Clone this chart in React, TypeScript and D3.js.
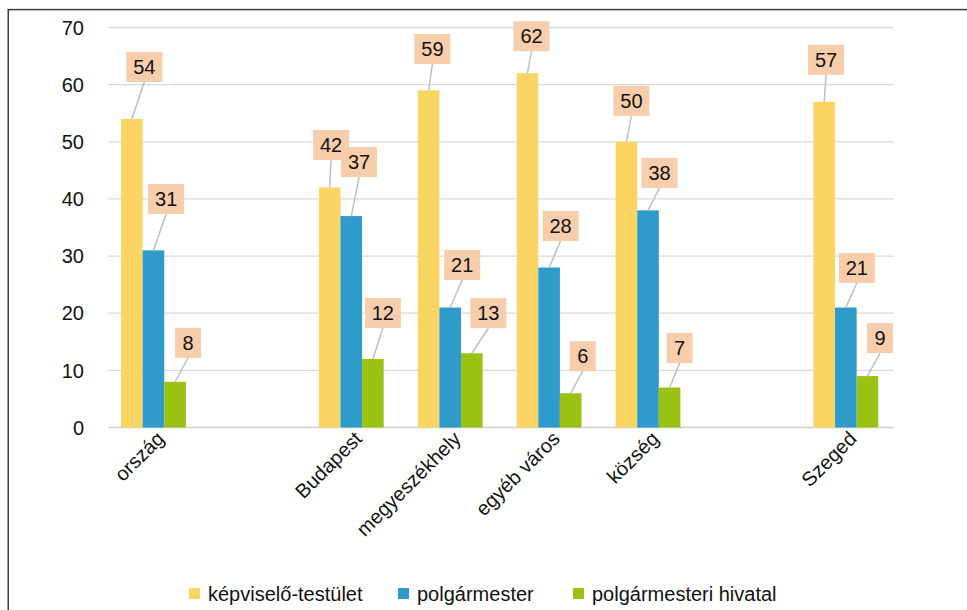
import React from "react";
import * as d3 from "d3";

// Category axis (empty slots keep the gaps between groups)
const categories = ["ország", "", "Budapest", "megyeszékhely", "egyéb város", "község", "", "Szeged"];

const seriesNames = ["képviselő-testület", "polgármester", "polgármesteri hivatal"];
const kepviseloTestulet = [54, null, 42, 59, 62, 50, null, 57];
const polgarmester = [31, null, 37, 21, 28, 38, null, 21];
const polgarmesteriHivatal = [8, null, 12, 13, 6, 7, null, 9];
const yTicks = [0, 10, 20, 30, 40, 50, 60, 70];

const seriesValues = [kepviseloTestulet, polgarmester, polgarmesteriHivatal];
const seriesColors = ["#FAD564", "#2E9BCA", "#9BC212"];

// Data-label callout placement: box centre relative to the top centre of its bar
const labelOffsets: (number[] | null)[][] = [
  [[12.5, -52], null, [1.4, -42.5], [3.8, -41.4], [4, -37], [5, -41], null, [1.8, -42]],
  [[12.7, -51.4], null, [7.8, -54], [12, -42.5], [11.5, -41.5], [11.5, -37.5], null, [11, -39.5]],
  [[13, -39], null, [10, -46], [16.6, -40], [12, -37], [10, -39.5], null, [12.5, -38]],
];

const W = 967;
const H = 610;
const FONT = "'Liberation Sans', Arial, sans-serif";

export default function App() {
  const x = d3
    .scaleBand<number>()
    .domain(categories.map((_, i) => i))
    .range([104, 895.3])
    .paddingInner(0)
    .paddingOuter(0);
  const groupW = x.bandwidth() * 0.655;
  const xs = d3
    .scaleBand<number>()
    .domain(seriesNames.map((_, i) => i))
    .range([0, groupW])
    .padding(0);
  const y = d3.scaleLinear().domain([0, 70]).range([427.5, 27.5]);

  const gridX0 = 108;
  const gridX1 = 894;

  const barCenter = (ci: number, si: number) =>
    (x(ci) as number) + (x.bandwidth() - groupW) / 2 + (xs(si) as number) + xs.bandwidth() / 2;

  const legendItems = [
    { sq: 189, tx: 208 },
    { sq: 398, tx: 417 },
    { sq: 573, tx: 592 },
  ];

  return (
    <svg
      width={W}
      height={H}
      style={{ position: "absolute", left: 0, top: 0, background: "#fff" }}
      fontFamily={FONT}
    >
      {/* chart frame */}
      <rect x={8.25} y={9.6} width={1000} height={700} fill="none" stroke="#3c3c3c" strokeWidth={1.5} />

      {/* gridlines */}
      {yTicks.map((t) => (
        <line
          key={"g" + t}
          x1={gridX0}
          x2={gridX1}
          y1={y(t)}
          y2={y(t)}
          stroke={t === 0 ? "#D0D0D0" : "#D9D9D9"}
          strokeWidth={1.3}
        />
      ))}

      {/* y tick labels */}
      {yTicks.map((t) => (
        <text key={"t" + t} x={84} y={y(t)} dy="0.36em" textAnchor="end" fontSize={20} fill="#111">
          {t}
        </text>
      ))}

      {/* bars */}
      {seriesValues.map((vals, si) =>
        vals.map((v, ci) =>
          v == null ? null : (
            <rect
              key={`b${si}-${ci}`}
              x={barCenter(ci, si) - xs.bandwidth() / 2}
              y={y(v)}
              width={xs.bandwidth()}
              height={y(0) - y(v)}
              fill={seriesColors[si]}
            />
          )
        )
      )}

      {/* data label callouts */}
      {seriesValues.map((vals, si) =>
        vals.map((v, ci) => {
          const off = labelOffsets[si][ci];
          if (v == null || !off) return null;
          const bx = barCenter(ci, si);
          const by = y(v);
          const cx = bx + off[0];
          const cy = by + off[1];
          const label = String(v);
          const bw = label.length > 1 ? 36 : 26;
          const bh = 30;
          return (
            <g key={`l${si}-${ci}`}>
              <line x1={cx} y1={cy + bh / 2} x2={bx} y2={by} stroke="#BFBFBF" strokeWidth={1.5} />
              <rect x={cx - bw / 2} y={cy - bh / 2} width={bw} height={bh} fill="#F8CDAC" />
              <text x={cx} y={cy} dy="0.36em" textAnchor="middle" fontSize={20} fill="#111">
                {label}
              </text>
            </g>
          );
        })
      )}

      {/* category labels */}
      {categories.map((c, ci) =>
        c ? (
          <text
            key={"c" + ci}
            transform={`translate(${(x(ci) as number) + x.bandwidth() / 2 + 12},${440}) rotate(-45)`}
            textAnchor="end"
            fontSize={20}
            fill="#111"
          >
            {c}
          </text>
        ) : null
      )}

      {/* legend */}
      {seriesNames.map((s, si) => (
        <g key={"lg" + si}>
          <rect x={legendItems[si].sq} y={588} width={11} height={11} fill={seriesColors[si]} />
          <text x={legendItems[si].tx} y={601} fontSize={20} fill="#111">
            {s}
          </text>
        </g>
      ))}
    </svg>
  );
}
